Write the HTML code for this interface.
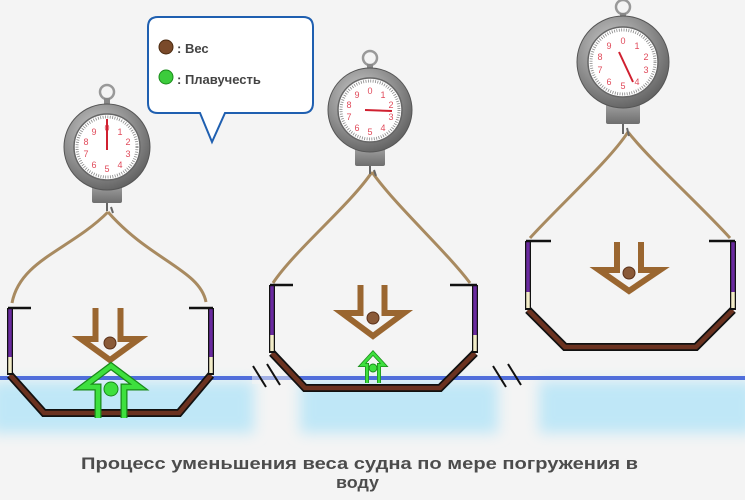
<!DOCTYPE html>
<html><head><meta charset="utf-8"><style>
html,body{margin:0;padding:0;background:#f4f4f4;}
svg{display:block;}
</style></head><body>
<svg width="745" height="500" viewBox="0 0 745 500" xmlns="http://www.w3.org/2000/svg" font-family="Liberation Sans, sans-serif">
<defs>
<filter id="bl" x="-10%" y="-30%" width="120%" height="160%"><feGaussianBlur stdDeviation="7"/></filter>
<radialGradient id="metal" cx="40%" cy="35%" r="70%"><stop offset="0" stop-color="#d0d0d0"/><stop offset="0.6" stop-color="#8e8e8e"/><stop offset="1" stop-color="#5e5e5e"/></radialGradient>
<linearGradient id="tab" x1="0" x2="0" y1="0" y2="1"><stop offset="0" stop-color="#a0a0a0"/><stop offset="1" stop-color="#6e6e6e"/></linearGradient>
</defs>
<rect width="745" height="500" fill="#f4f4f4"/>
<!-- water -->
<g filter="url(#bl)" fill="#bfe7f7">
<rect x="-10" y="381" width="264" height="52"/>
<rect x="300" y="381" width="198" height="52"/>
<rect x="539" y="381" width="216" height="52"/>
</g>
<rect x="0" y="376" width="745" height="4" fill="#3557d6" opacity="0.85"/>
<rect x="252" y="372" width="45" height="12" fill="#f4f4f4" opacity="0.5"/>
<!-- break marks -->
<g stroke="#111" stroke-width="2">
<line x1="253" y1="366" x2="266" y2="387"/><line x1="267" y1="364" x2="280" y2="385"/>
<line x1="493" y1="366" x2="506" y2="387"/><line x1="508" y1="364" x2="521" y2="385"/>
</g>

<!-- ropes -->
<g fill="none" stroke="#a88a60" stroke-width="3">
<path d="M108,212 C70,250 20,260 12,303"/>
<path d="M108,212 C150,260 200,270 206,302"/>
<path d="M372,172 C350,205 295,250 273,283"/>
<path d="M372,172 C395,205 445,250 470,283"/>
<path d="M628,132 C610,160 560,205 530,238"/>
<path d="M628,132 C650,160 700,205 730,238"/>
</g>

<!-- ships -->
<g fill="none" stroke-linejoin="miter">
<path d="M10,375 L44,413 L179,413 L211,375" stroke="#111" stroke-width="8"/>
<path d="M10,375 L44,413 L179,413 L211,375" stroke="#6b3220" stroke-width="4.5"/>
<path d="M10,308 V375 M211,308 V375" stroke="#111" stroke-width="6"/>
<path d="M10,308 V357 M211,308 V357" stroke="#6a2aa0" stroke-width="3.5"/>
<path d="M10,357 V373 M211,357 V373" stroke="#f2ecc8" stroke-width="3.5"/>
<path d="M8,308 H31 M189,308 H213" stroke="#111" stroke-width="2.5"/>
<path d="M272,353 L305,388 L440,388 L475,353" stroke="#111" stroke-width="8"/>
<path d="M272,353 L305,388 L440,388 L475,353" stroke="#6b3220" stroke-width="4.5"/>
<path d="M272,285 V353 M475,285 V353" stroke="#111" stroke-width="6"/>
<path d="M272,286 V335 M475,286 V335" stroke="#6a2aa0" stroke-width="3.5"/>
<path d="M272,335 V351 M475,335 V351" stroke="#f2ecc8" stroke-width="3.5"/>
<path d="M270,285 H293 M450,285 H477" stroke="#111" stroke-width="2.5"/>
<path d="M528,310 L565,347 L696,347 L733,310" stroke="#111" stroke-width="8"/>
<path d="M528,310 L565,347 L696,347 L733,310" stroke="#6b3220" stroke-width="4.5"/>
<path d="M528,241 V310 M733,241 V310" stroke="#111" stroke-width="6"/>
<path d="M528,242 V292 M733,242 V292" stroke="#6a2aa0" stroke-width="3.5"/>
<path d="M528,292 V308 M733,292 V308" stroke="#f2ecc8" stroke-width="3.5"/>
<path d="M526,241 H551 M709,241 H735" stroke="#111" stroke-width="2.5"/>
</g>

<!-- arrows -->
<g fill="none" stroke-linejoin="miter">
<path d="M95.5,308 V339 H81 L110,360 L139,339 H120.5 V308" stroke="#9a6630" stroke-width="6"/>
<path d="M98,418 V387 H83 L111,366 L139,387 H124 V418" stroke="#1a8a1a" stroke-width="7"/>
<path d="M98,418 V387 H83 L111,366 L139,387 H124 V418" stroke="#3ee03e" stroke-width="4.5"/>
<path d="M360.5,285 V313 H342 L373,336 L404,313 H384.5 V285" stroke="#9a6630" stroke-width="6"/>
<path d="M367,383 V365 H362 L373,353 L384,365 H379 V383" stroke="#1a8a1a" stroke-width="4"/>
<path d="M367,383 V365 H362 L373,353 L384,365 H379 V383" stroke="#3ee03e" stroke-width="2.5"/>
<path d="M617,242 V270 H599 L629,291 L660,270 H641 V242" stroke="#9a6630" stroke-width="6"/>
</g>
<g>
<circle cx="110" cy="343" r="6" fill="#8a5a38" stroke="#5a3018"/>
<circle cx="111" cy="389" r="7" fill="#3ee03e" stroke="#1a8a1a"/>
<circle cx="373" cy="318" r="6" fill="#8a5a38" stroke="#5a3018"/>
<circle cx="373" cy="368" r="4" fill="#3ee03e" stroke="#1a8a1a"/>
<circle cx="629" cy="273" r="6" fill="#8a5a38" stroke="#5a3018"/>
</g>

<!-- scales -->
<g transform="translate(107,147)">
<circle cx="0" cy="-55" r="7" fill="none" stroke="#999" stroke-width="2.5"/>
<rect x="-3" y="-49" width="6" height="8" fill="#888"/>
<rect x="-15" y="38" width="30" height="18" rx="2" fill="url(#tab)"/>
<path d="M0,56 V64 M4,60 L6,66" stroke="#666" stroke-width="2"/>
<circle r="43" fill="url(#metal)" stroke="#555"/>
<circle r="33" fill="#fff" stroke="#666" stroke-width="1.5"/>
<circle r="30" fill="none" stroke="#888" stroke-width="3" stroke-dasharray="0.8 1.6"/>
<g font-size="9" fill="#e04a5a" text-anchor="middle">
<text x="0" y="-16">0</text><text x="13" y="-12">1</text><text x="21" y="-2">2</text><text x="21" y="10">3</text><text x="13" y="21">4</text><text x="0" y="25">5</text><text x="-13" y="21">6</text><text x="-21" y="10">7</text><text x="-21" y="-2">8</text><text x="-13" y="-12">9</text>
</g>
<line x1="0" y1="3" x2="0" y2="-28" stroke="#d02030" stroke-width="2"/>
</g>
<g transform="translate(370,110)">
<circle cx="0" cy="-52" r="7" fill="none" stroke="#999" stroke-width="2.5"/>
<rect x="-3" y="-46" width="6" height="7" fill="#888"/>
<rect x="-15" y="38" width="30" height="18" rx="2" fill="url(#tab)"/>
<path d="M0,56 V64 M4,60 L6,66" stroke="#666" stroke-width="2"/>
<circle r="42" fill="url(#metal)" stroke="#555"/>
<circle r="32" fill="#fff" stroke="#666" stroke-width="1.5"/>
<circle r="29" fill="none" stroke="#888" stroke-width="3" stroke-dasharray="0.8 1.6"/>
<g font-size="9" fill="#e04a5a" text-anchor="middle">
<text x="0" y="-16">0</text><text x="13" y="-12">1</text><text x="21" y="-2">2</text><text x="21" y="10">3</text><text x="13" y="21">4</text><text x="0" y="25">5</text><text x="-13" y="21">6</text><text x="-21" y="10">7</text><text x="-21" y="-2">8</text><text x="-13" y="-12">9</text>
</g>
<line x1="-5" y1="0" x2="22" y2="1" stroke="#d02030" stroke-width="2"/>
</g>
<g transform="translate(623,62)">
<circle cx="0" cy="-55" r="7" fill="none" stroke="#999" stroke-width="2.5"/>
<rect x="-3" y="-49" width="6" height="7" fill="#888"/>
<rect x="-17" y="42" width="34" height="20" rx="2" fill="url(#tab)"/>
<path d="M0,62 V72 M4,66 L6,74" stroke="#666" stroke-width="2"/>
<circle r="46" fill="url(#metal)" stroke="#555"/>
<circle r="35" fill="#fff" stroke="#666" stroke-width="1.5"/>
<circle r="32" fill="none" stroke="#888" stroke-width="3" stroke-dasharray="0.8 1.6"/>
<g font-size="9" fill="#e04a5a" text-anchor="middle">
<text x="0" y="-18">0</text><text x="14" y="-13">1</text><text x="23" y="-2">2</text><text x="23" y="11">3</text><text x="14" y="23">4</text><text x="0" y="27">5</text><text x="-14" y="23">6</text><text x="-23" y="11">7</text><text x="-23" y="-2">8</text><text x="-14" y="-13">9</text>
</g>
<line x1="-4" y1="-10" x2="10" y2="20" stroke="#d02030" stroke-width="2"/>
</g>

<!-- callout -->
<path d="M158,17 H303 Q313,17 313,27 V103 Q313,113 303,113 H225 L212,142 L200,113 H158 Q148,113 148,103 V27 Q148,17 158,17 Z" fill="#fff" stroke="#1f5fb0" stroke-width="2"/>
<circle cx="166" cy="47" r="7" fill="#7a4a2a" stroke="#4a2a10"/>
<circle cx="166" cy="77" r="7" fill="#3ccc3c" stroke="#1a8a1a"/>
<g font-size="13" font-weight="bold" fill="#444">
<text x="177" y="53">: Вес</text>
<text x="177" y="84">: Плавучесть</text>
</g>

<!-- caption -->
<g font-size="17" font-weight="bold" fill="#4c4c4c">
<text x="81" y="469" textLength="557" lengthAdjust="spacingAndGlyphs">Процесс уменьшения веса судна по мере погружения в</text>
<text x="336" y="488" textLength="43" lengthAdjust="spacingAndGlyphs">воду</text>
</g>
</svg>
</body></html>
